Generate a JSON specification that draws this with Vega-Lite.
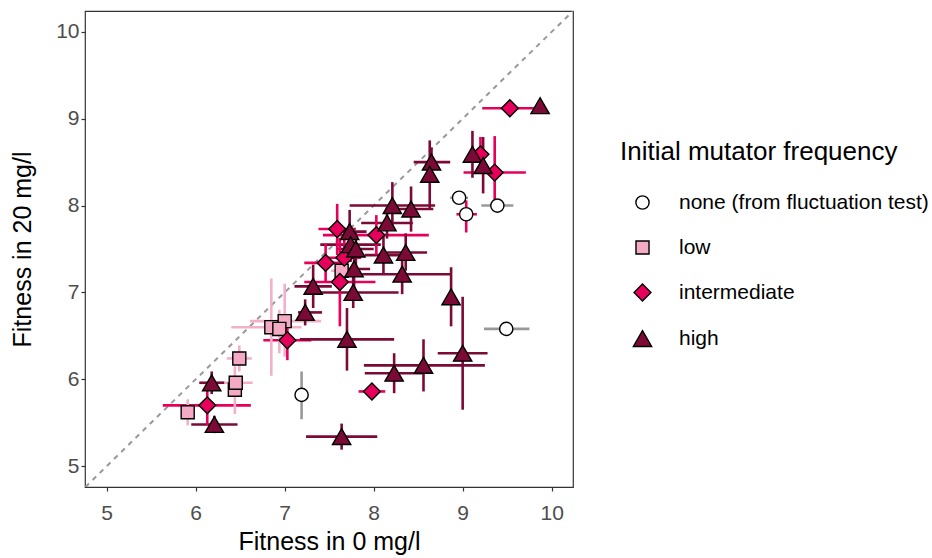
{
  "$schema": "https://vega.github.io/schema/vega-lite/v6.json",
  "width": 488,
  "height": 476,
  "autosize": {"type": "none"},
  "padding": {"left": 85, "top": 11, "right": 359, "bottom": 71},
  "background": "white",
  "datasets": {
    "diag": [{"v": 4.6}, {"v": 10.4}],
    "pts": [
      {"grp": "none (from fluctuation test)", "eg": "none (from fluctuation test)", "x": 8.96, "y": 8.09, "xmin": 8.86, "xmax": 9.06, "ymin": 8.09, "ymax": 8.09},
      {"grp": "none (from fluctuation test)", "eg": "intermediate", "x": 9.04, "y": 7.90, "xmin": 8.93, "xmax": 9.16, "ymin": 7.69, "ymax": 8.06},
      {"grp": "none (from fluctuation test)", "eg": "none (from fluctuation test)", "x": 9.39, "y": 8.00, "xmin": 9.21, "xmax": 9.57, "ymin": 8.00, "ymax": 8.00},
      {"grp": "none (from fluctuation test)", "eg": "none (from fluctuation test)", "x": 9.49, "y": 6.58, "xmin": 9.24, "xmax": 9.75, "ymin": 6.58, "ymax": 6.58},
      {"grp": "none (from fluctuation test)", "eg": "none (from fluctuation test)", "x": 7.19, "y": 5.82, "xmin": 7.19, "xmax": 7.19, "ymin": 5.54, "ymax": 6.09},
      {"grp": "low", "eg": "low", "x": 5.91, "y": 5.62, "xmin": 5.87, "xmax": 5.95, "ymin": 5.47, "ymax": 5.77},
      {"grp": "low", "eg": "low", "x": 6.44, "y": 5.88, "xmin": 6.41, "xmax": 6.47, "ymin": 5.60, "ymax": 6.15},
      {"grp": "low", "eg": "low", "x": 6.45, "y": 5.96, "xmin": 6.25, "xmax": 6.64, "ymin": 5.88, "ymax": 6.04},
      {"grp": "low", "eg": "low", "x": 6.49, "y": 6.24, "xmin": 6.35, "xmax": 6.63, "ymin": 6.09, "ymax": 6.39},
      {"grp": "low", "eg": "low", "x": 6.85, "y": 6.60, "xmin": 6.40, "xmax": 7.19, "ymin": 6.04, "ymax": 7.16},
      {"grp": "low", "eg": "low", "x": 7.00, "y": 6.67, "xmin": 6.61, "xmax": 7.41, "ymin": 6.26, "ymax": 7.10},
      {"grp": "low", "eg": "low", "x": 6.94, "y": 6.58, "xmin": 6.85, "xmax": 7.03, "ymin": 6.30, "ymax": 6.80},
      {"grp": "low", "eg": "low", "x": 7.64, "y": 7.25, "xmin": 7.52, "xmax": 7.76, "ymin": 7.12, "ymax": 7.38},
      {"grp": "intermediate", "eg": "intermediate", "x": 9.53, "y": 9.12, "xmin": 9.22, "xmax": 9.84, "ymin": 9.12, "ymax": 9.12},
      {"grp": "intermediate", "eg": "intermediate", "x": 9.20, "y": 8.59, "xmin": 9.12, "xmax": 9.28, "ymin": 8.39, "ymax": 8.79},
      {"grp": "intermediate", "eg": "intermediate", "x": 9.36, "y": 8.38, "xmin": 9.01, "xmax": 9.71, "ymin": 7.97, "ymax": 8.80},
      {"grp": "intermediate", "eg": "intermediate", "x": 7.59, "y": 7.73, "xmin": 7.38, "xmax": 7.80, "ymin": 7.43, "ymax": 8.02},
      {"grp": "intermediate", "eg": "intermediate", "x": 8.03, "y": 7.66, "xmin": 7.43, "xmax": 8.62, "ymin": 7.43, "ymax": 7.89},
      {"grp": "intermediate", "eg": "intermediate", "x": 7.46, "y": 7.34, "xmin": 7.22, "xmax": 7.70, "ymin": 7.12, "ymax": 7.56},
      {"grp": "intermediate", "eg": "intermediate", "x": 7.67, "y": 7.40, "xmin": 7.48, "xmax": 7.86, "ymin": 7.08, "ymax": 7.72},
      {"grp": "intermediate", "eg": "intermediate", "x": 7.62, "y": 7.12, "xmin": 7.22, "xmax": 8.02, "ymin": 6.61, "ymax": 7.63},
      {"grp": "intermediate", "eg": "intermediate", "x": 7.03, "y": 6.45, "xmin": 6.76, "xmax": 7.30, "ymin": 6.22, "ymax": 6.68},
      {"grp": "intermediate", "eg": "intermediate", "x": 6.13, "y": 5.70, "xmin": 5.63, "xmax": 6.62, "ymin": 5.47, "ymax": 5.92},
      {"grp": "intermediate", "eg": "intermediate", "x": 7.98, "y": 5.86, "xmin": 7.83, "xmax": 8.13, "ymin": 5.86, "ymax": 5.86},
      {"grp": "high", "eg": "high", "x": 9.87, "y": 9.15, "xmin": 9.87, "xmax": 9.87, "ymin": 9.15, "ymax": 9.15},
      {"grp": "high", "eg": "high", "x": 9.11, "y": 8.59, "xmin": 9.11, "xmax": 9.11, "ymin": 8.32, "ymax": 8.86},
      {"grp": "high", "eg": "high", "x": 9.23, "y": 8.46, "xmin": 9.23, "xmax": 9.23, "ymin": 8.14, "ymax": 8.79},
      {"grp": "high", "eg": "high", "x": 8.65, "y": 8.50, "xmin": 8.45, "xmax": 8.86, "ymin": 8.33, "ymax": 8.67},
      {"grp": "high", "eg": "high", "x": 8.63, "y": 8.36, "xmin": 8.63, "xmax": 8.63, "ymin": 7.97, "ymax": 8.75},
      {"grp": "high", "eg": "high", "x": 8.21, "y": 8.00, "xmin": 7.73, "xmax": 8.69, "ymin": 7.73, "ymax": 8.27},
      {"grp": "high", "eg": "high", "x": 8.42, "y": 7.96, "xmin": 8.17, "xmax": 8.67, "ymin": 7.70, "ymax": 8.22},
      {"grp": "high", "eg": "high", "x": 8.15, "y": 7.80, "xmin": 7.86, "xmax": 8.44, "ymin": 7.62, "ymax": 7.98},
      {"grp": "high", "eg": "high", "x": 7.73, "y": 7.70, "xmin": 7.55, "xmax": 7.92, "ymin": 7.45, "ymax": 7.95},
      {"grp": "high", "eg": "high", "x": 7.74, "y": 7.55, "xmin": 7.40, "xmax": 8.08, "ymin": 7.35, "ymax": 7.75},
      {"grp": "high", "eg": "high", "x": 7.80, "y": 7.50, "xmin": 7.60, "xmax": 8.00, "ymin": 7.30, "ymax": 7.70},
      {"grp": "high", "eg": "high", "x": 8.11, "y": 7.43, "xmin": 7.90, "xmax": 8.32, "ymin": 7.20, "ymax": 7.66},
      {"grp": "high", "eg": "high", "x": 8.36, "y": 7.46, "xmin": 8.15, "xmax": 8.60, "ymin": 7.25, "ymax": 7.68},
      {"grp": "high", "eg": "high", "x": 8.32, "y": 7.21, "xmin": 7.87, "xmax": 8.88, "ymin": 6.98, "ymax": 7.44},
      {"grp": "high", "eg": "high", "x": 7.78, "y": 7.27, "xmin": 7.60, "xmax": 7.96, "ymin": 7.05, "ymax": 7.50},
      {"grp": "high", "eg": "high", "x": 7.77, "y": 7.00, "xmin": 7.32, "xmax": 8.28, "ymin": 6.82, "ymax": 7.18},
      {"grp": "high", "eg": "high", "x": 7.32, "y": 7.07, "xmin": 7.11, "xmax": 7.53, "ymin": 6.82, "ymax": 7.32},
      {"grp": "high", "eg": "high", "x": 7.23, "y": 6.77, "xmin": 7.15, "xmax": 7.42, "ymin": 6.62, "ymax": 6.92},
      {"grp": "high", "eg": "high", "x": 8.87, "y": 6.95, "xmin": 8.87, "xmax": 8.87, "ymin": 6.61, "ymax": 7.29},
      {"grp": "high", "eg": "high", "x": 7.70, "y": 6.46, "xmin": 7.17, "xmax": 8.23, "ymin": 6.10, "ymax": 6.82},
      {"grp": "high", "eg": "high", "x": 9.00, "y": 6.30, "xmin": 8.72, "xmax": 9.28, "ymin": 5.65, "ymax": 6.95},
      {"grp": "high", "eg": "high", "x": 8.56, "y": 6.16, "xmin": 7.89, "xmax": 9.25, "ymin": 5.86, "ymax": 6.46},
      {"grp": "high", "eg": "high", "x": 8.23, "y": 6.07, "xmin": 7.90, "xmax": 8.56, "ymin": 5.84, "ymax": 6.30},
      {"grp": "high", "eg": "high", "x": 7.64, "y": 5.34, "xmin": 7.24, "xmax": 8.04, "ymin": 5.19, "ymax": 5.49},
      {"grp": "high", "eg": "high", "x": 6.18, "y": 5.96, "xmin": 6.04, "xmax": 6.32, "ymin": 5.83, "ymax": 6.09},
      {"grp": "high", "eg": "high", "x": 6.21, "y": 5.48, "xmin": 5.95, "xmax": 6.47, "ymin": 5.38, "ymax": 5.58}
    ]
  },
  "encoding": {
    "x": {"type": "quantitative", "scale": {"domain": [4.756, 10.24], "nice": false, "zero": false}, "axis": {"title": "Fitness in 0 mg/l", "values": [5, 6, 7, 8, 9, 10], "labelPadding": 11, "titlePadding": 6}},
    "y": {"type": "quantitative", "scale": {"domain": [4.76, 10.24], "nice": false, "zero": false}, "axis": {"title": "Fitness in 20 mg/l", "values": [5, 6, 7, 8, 9, 10], "labelPadding": 2, "titlePadding": 20}}
  },
  "layer": [
    {
      "data": {"name": "diag"},
      "mark": {"type": "line", "strokeDash": [5, 5], "color": "#999999", "strokeWidth": 2, "clip": true},
      "encoding": {"x": {"field": "v"}, "y": {"field": "v"}}
    },
    {
      "data": {"name": "pts"},
      "mark": {"type": "rule", "strokeWidth": 2.6},
      "encoding": {
        "x": {"field": "xmin"}, "x2": {"field": "xmax"}, "y": {"field": "y"},
        "color": {"field": "eg", "type": "nominal", "legend": null,
          "scale": {"domain": ["none (from fluctuation test)", "low", "intermediate", "high"], "range": ["#999999", "#F5B0C9", "#E7005B", "#7B0B36"]}}
      }
    },
    {
      "data": {"name": "pts"},
      "mark": {"type": "rule", "strokeWidth": 2.6},
      "encoding": {
        "x": {"field": "x"}, "y": {"field": "ymin"}, "y2": {"field": "ymax"},
        "color": {"field": "eg", "type": "nominal", "legend": null,
          "scale": {"domain": ["none (from fluctuation test)", "low", "intermediate", "high"], "range": ["#999999", "#F5B0C9", "#E7005B", "#7B0B36"]}}
      }
    },
    {
      "data": {"name": "pts"},
      "mark": {"type": "point", "filled": true, "strokeWidth": 1.4, "opacity": 1},
      "encoding": {
        "x": {"field": "x"}, "y": {"field": "y"},
        "fill": {"field": "grp", "type": "nominal", "title": "Initial mutator frequency",
          "scale": {"domain": ["none (from fluctuation test)", "low", "intermediate", "high"], "range": ["#FFFFFF", "#F4A9C5", "#E7005B", "#7B0B36"]},
          "legend": {"labelLimit": 400, "titleLimit": 400}},
        "stroke": {"field": "grp", "type": "nominal", "title": "Initial mutator frequency",
          "scale": {"domain": ["none (from fluctuation test)", "low", "intermediate", "high"], "range": ["#000000", "#000000", "#000000", "#000000"]},
          "legend": {"labelLimit": 400, "titleLimit": 400}},
        "shape": {"field": "grp", "type": "nominal", "title": "Initial mutator frequency",
          "scale": {"domain": ["none (from fluctuation test)", "low", "intermediate", "high"], "range": ["circle", "square", "diamond", "triangle-up"]},
          "legend": {"labelLimit": 400, "titleLimit": 400}},
        "size": {"field": "grp", "type": "nominal", "title": "Initial mutator frequency",
          "scale": {"type": "ordinal", "domain": ["none (from fluctuation test)", "low", "intermediate", "high"], "range": [175, 170, 285, 335]},
          "legend": {"labelLimit": 400, "titleLimit": 400}}
      }
    }
  ],
  "resolve": {"scale": {"color": "independent"}},
  "config": {
    "font": "Liberation Sans",
    "view": {"stroke": "#333333", "strokeWidth": 1.2},
    "axis": {
      "grid": false, "domain": false, "ticks": true, "tickColor": "#333333", "tickSize": 4, "tickWidth": 1.2,
      "labelColor": "#4D4D4D", "labelFontSize": 21, "labelFont": "Liberation Sans",
      "titleColor": "#000000", "titleFontSize": 25, "titleFontWeight": "normal", "titleFont": "Liberation Sans"
    },
    "legend": {
      "orient": "none", "legendX": 535, "legendY": 128, "padding": 0,
      "titleFont": "Liberation Sans", "titleFontSize": 26, "titleFontWeight": "normal", "titleColor": "#000000", "titlePadding": 27, "titleLimit": 400,
      "labelFont": "Liberation Sans", "labelFontSize": 21, "labelColor": "#000000", "labelOffset": 26, "labelLimit": 400,
      "symbolOffset": 12, "symbolStrokeWidth": 1.4, "rowPadding": 23
    }
  }
}
